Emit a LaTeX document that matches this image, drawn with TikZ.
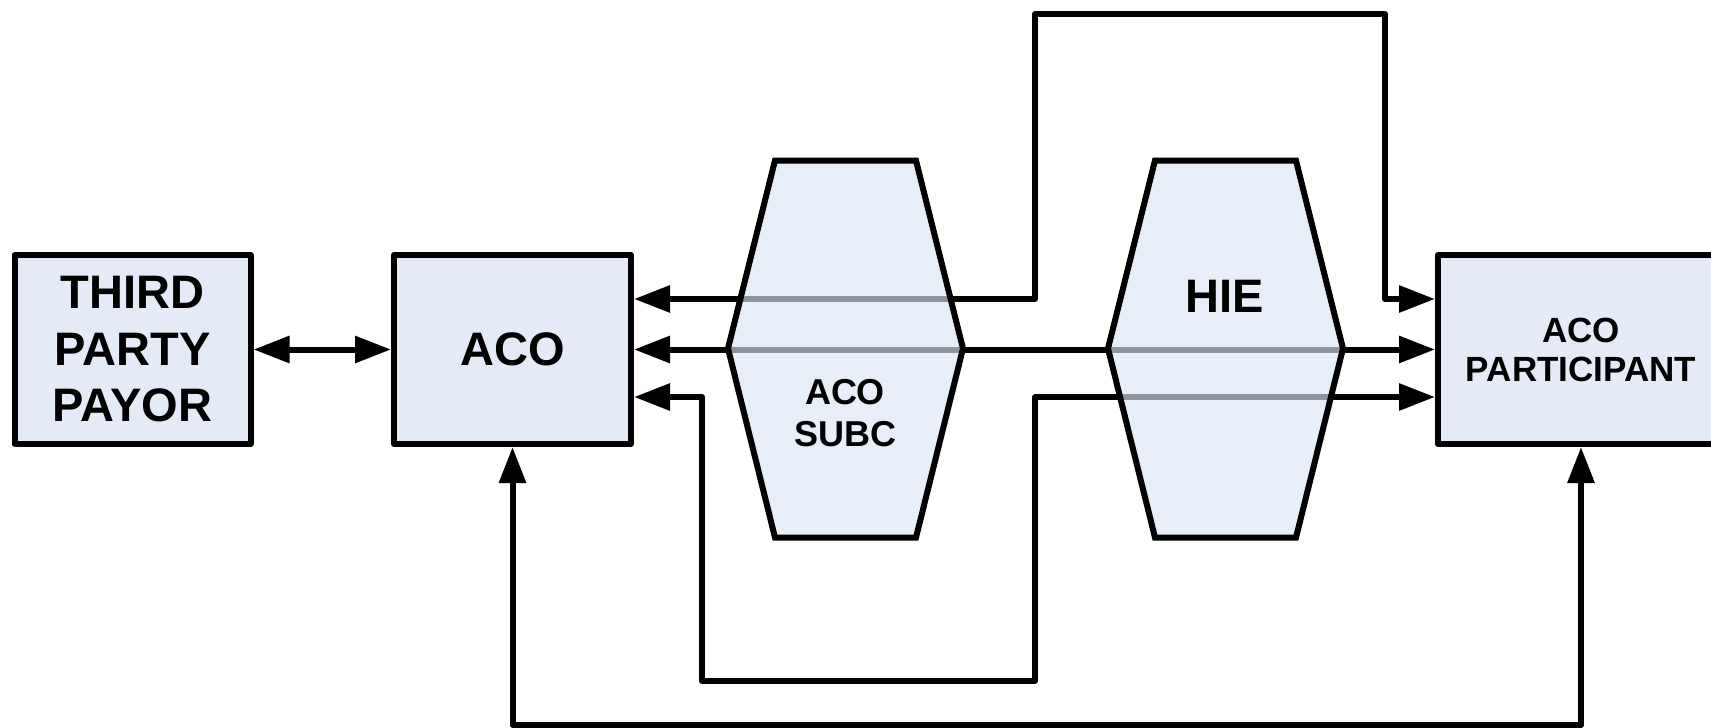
\documentclass[tikz,border=0pt]{standalone}
\usepackage{fontspec}
\setmainfont{Liberation Sans}
\usetikzlibrary{arrows.meta}
\definecolor{boxfill}{RGB}{229,235,246}
\definecolor{hexfill}{RGB}{220,229,243}
\begin{document}
\begin{tikzpicture}[x=1pt,y=-1pt,
  box/.style={draw=black, line width=6pt, fill=boxfill, rectangle, minimum height=189pt, inner sep=0pt, align=center, line join=round},
  bigtxt/.style={font=\bfseries\fontsize{47}{56.5}\selectfont},
  midtxt/.style={font=\bfseries\fontsize{35}{39}\selectfont},
  hexa/.style={draw=black, line width=6pt, fill=hexfill, fill opacity=0.65, line join=miter, miter limit=20},
  link/.style={line width=6pt, {Triangle[length=36pt,width=26pt]}-{Triangle[length=36pt,width=26pt]}, line join=round},
  lbl/.style={align=center, inner sep=0pt}
]
\useasboundingbox (0,0) rectangle (1711,728);
\begin{scope}
\clip (0,0) rectangle (1711,728);
% boxes
\node[box, bigtxt, minimum width=236pt] (tpp) at (132.5,349.5) {THIRD\\PARTY\\PAYOR};
\node[box, bigtxt, minimum width=237pt] (aco) at (512.5,349.5) {ACO};
\node[box, midtxt, minimum width=286pt] (acop) at (1581,349.5) {ACO\\PARTICIPANT};

% connectors
\draw[link] (tpp.east) -- (aco.west);
\draw[link] (aco.east |- 0,299) -| (1035,14) -| (1385,299) -- (acop.west |- 0,299);
\draw[link] (aco.east) -- (acop.west);
\draw[link] (aco.east |- 0,397) -| (702,681) -| (1035,397) -- (acop.west |- 0,397);
\draw[link] (aco.south) |- (acop.south |- 0,725) -- (acop.south);

% hexagons
\draw[hexa] (775,160.5) -- (916,160.5) -- (963,348.5) -- (916,537.5) -- (775,537.5) -- (728,348.5) -- cycle;
\draw[hexa] (1155,160.5) -- (1296,160.5) -- (1343,348.5) -- (1296,537.5) -- (1155,537.5) -- (1108,348.5) -- cycle;
\node[lbl, font=\bfseries\fontsize{36}{42}\selectfont] (subc) at (845,413) {ACO\\SUBC};
\node[lbl, bigtxt] (hie) at (1225,296) {HIE};
\end{scope}
\end{tikzpicture}
\end{document}
